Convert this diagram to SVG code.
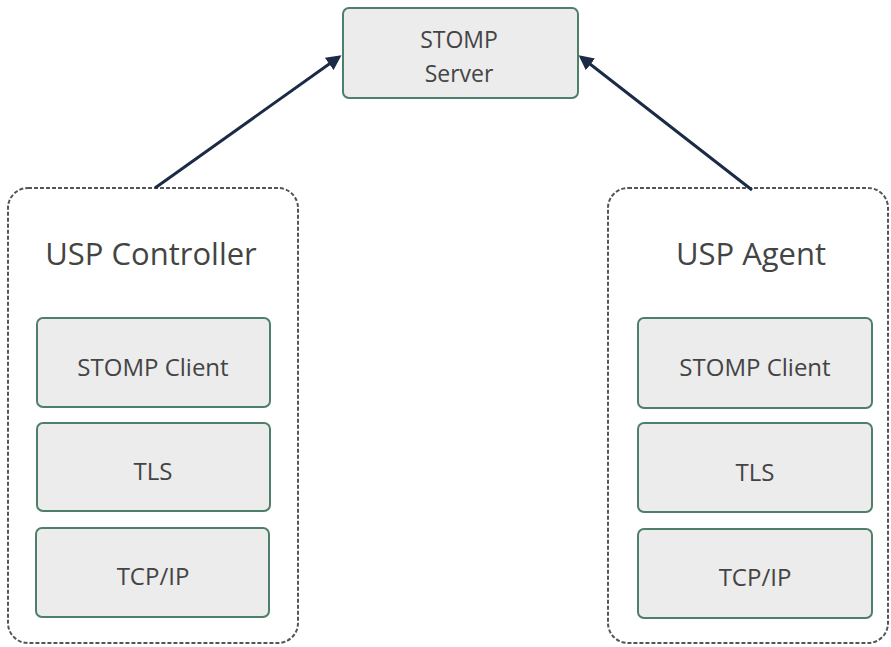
<svg xmlns="http://www.w3.org/2000/svg" width="891" height="647" viewBox="0 0 891 647">
<style>
.box{fill:#ececec;stroke:#4e7f69;stroke-width:2}
.cont{fill:#ffffff;stroke:#555;stroke-width:2;stroke-dasharray:4 2}
.t{font-family:"Open Sans","Noto Sans",sans-serif;fill:#444;text-anchor:middle}
.s{font-size:24px}
.m{font-size:23px}
.l{font-size:31px}
.c{stroke:#1b2b45;stroke-width:3;fill:none;marker-end:url(#ah)}
</style>
<defs>
<marker id="ah" viewBox="0 0 10 10" refX="8" refY="5" markerWidth="5" markerHeight="5" orient="auto" markerUnits="strokeWidth">
<path d="M0,0 L10,5 L0,10 z" fill="#1b2b45"/>
</marker>
</defs>
<rect width="891" height="647" fill="#fff"/>
<g id="server">
<rect class="box" x="343" y="8" width="235" height="90" rx="6"/>
<text class="t m" x="459" y="48">STOMP</text>
<text class="t m" x="459" y="82">Server</text>
</g>
<g id="controller">
<rect class="cont" x="8" y="188" width="290" height="455" rx="20"/>
<text class="t l" x="151" y="265">USP Controller</text>
</g>
<g id="c-stomp">
<rect class="box" x="37" y="318" width="233" height="89" rx="6"/>
<text class="t s" x="153" y="376">STOMP Client</text>
</g>
<g id="c-tls">
<rect class="box" x="37" y="423" width="233" height="88" rx="6"/>
<text class="t s" x="153" y="480">TLS</text>
</g>
<g id="c-tcp">
<rect class="box" x="36" y="528" width="233" height="89" rx="6"/>
<text class="t s" x="153" y="585">TCP/IP</text>
</g>
<g id="agent">
<rect class="cont" x="608" y="188" width="280" height="455" rx="20"/>
<text class="t l" x="751" y="265">USP Agent</text>
</g>
<g id="a-stomp">
<rect class="box" x="638" y="318" width="234" height="90" rx="6"/>
<text class="t s" x="755" y="376">STOMP Client</text>
</g>
<g id="a-tls">
<rect class="box" x="638" y="423" width="234" height="89" rx="6"/>
<text class="t s" x="755" y="481">TLS</text>
</g>
<g id="a-tcp">
<rect class="box" x="638" y="529" width="234" height="89" rx="6"/>
<text class="t s" x="755" y="586">TCP/IP</text>
</g>
<g id="connectors">
<line class="c" x1="155" y1="188" x2="339" y2="57"/>
<line class="c" x1="752" y1="190" x2="581" y2="57"/>
</g>
</svg>
